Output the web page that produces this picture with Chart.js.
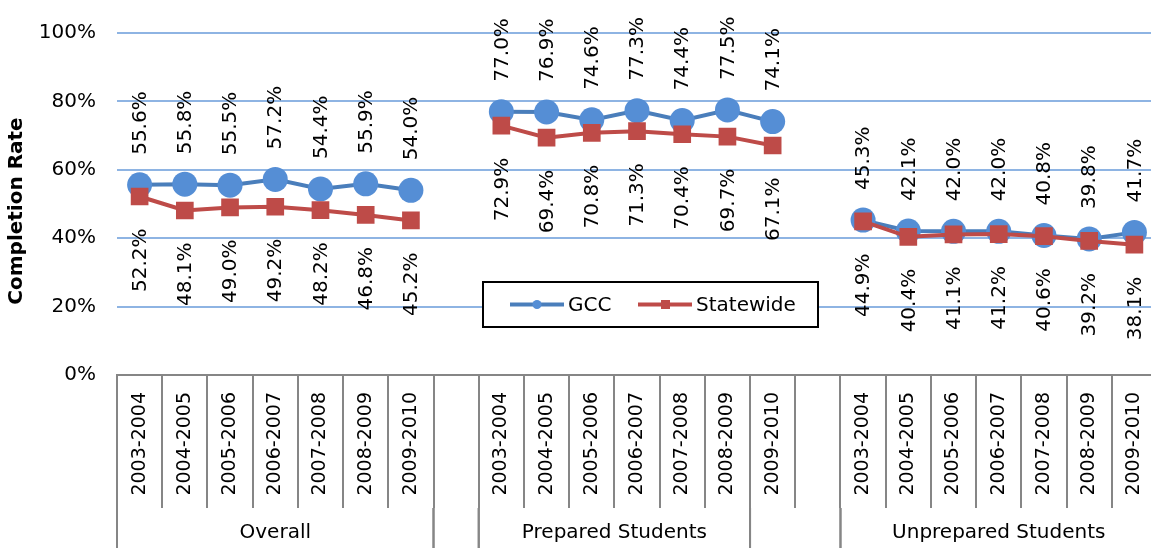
<!DOCTYPE html>
<html>
<head>
<meta charset="utf-8">
<script src="https://cdn.jsdelivr.net/npm/chart.js@4.4.0/dist/chart.umd.min.js"></script>
<style>
  html, body { margin: 0; padding: 0; background: #fff; overflow: hidden; }
  #completion { display: block; }
</style>
</head>
<body>
<canvas id="completion" width="1157" height="548"></canvas>
<script>
// Categories
var years = ["2003-2004", "2004-2005", "2005-2006", "2006-2007", "2007-2008", "2008-2009", "2009-2010"];
var groupLabels = ["Overall", "", "Prepared Students", "", "Unprepared Students"];
var groupSpans = [7, 1, 6, 2, 7];

// Completion rates (%)
var gccOverall = [55.6, 55.8, 55.5, 57.2, 54.4, 55.9, 54.0];
var gccPrepared = [77.0, 76.9, 74.6, 77.3, 74.4, 77.5, 74.1];
var gccUnprepared = [45.3, 42.1, 42.0, 42.0, 40.8, 39.8, 41.7];
var stateOverall = [52.2, 48.1, 49.0, 49.2, 48.2, 46.8, 45.2];
var statePrepared = [72.9, 69.4, 70.8, 71.3, 70.4, 69.7, 67.1];
var stateUnprepared = [44.9, 40.4, 41.1, 41.2, 40.6, 39.2, 38.1];

var yTicks = [0, 20, 40, 60, 80, 100];

// one empty category between the groups
var labels = years.concat([""], years, [""], years);
var gccData = gccOverall.concat([null], gccPrepared, [null], gccUnprepared);
var stateData = stateOverall.concat([null], statePrepared, [null], stateUnprepared);

var FONT = "DejaVu Sans";
var AXIS_GRAY = "#868686";

// Data labels: GCC above, Statewide below, rotated
var dataLabels = {
  id: "dataLabels",
  afterDatasetsDraw: function (chart) {
    var ctx = chart.ctx;
    ctx.save();
    ctx.font = "20px '" + FONT + "'";
    ctx.fillStyle = "#000";
    ctx.textBaseline = "middle";
    chart.data.datasets.forEach(function (ds, i) {
      var meta = chart.getDatasetMeta(i);
      meta.data.forEach(function (pt, j) {
        var v = ds.data[j];
        if (v === null) return;
        var txt = v.toFixed(1) + "%";
        ctx.save();
        if (ds.labelPos === "above") {
          ctx.translate(pt.x + 1, pt.y - 30);
          ctx.rotate(-Math.PI / 2);
          ctx.textAlign = "left";
        } else {
          ctx.translate(pt.x + 1, pt.y + 32);
          ctx.rotate(-Math.PI / 2);
          ctx.textAlign = "right";
        }
        ctx.fillText(txt, 0, 0);
        ctx.restore();
      });
    });
    ctx.restore();
  }
};

// Second level of the category axis + y title
var groupAxis = {
  id: "groupAxis",
  afterDraw: function (chart) {
    var ctx = chart.ctx;
    var x = chart.scales.x;
    var w = x.getPixelForValue(1) - x.getPixelForValue(0);
    var top = x.top + 133;
    var bottom = chart.height;
    ctx.save();
    ctx.strokeStyle = AXIS_GRAY;
    ctx.lineWidth = 2;
    ctx.fillStyle = "#000";
    ctx.font = "20px '" + FONT + "'";
    ctx.textAlign = "center";
    ctx.textBaseline = "middle";
    var idx = 0;
    for (var g = 0; g < groupSpans.length; g++) {
      var left = x.getPixelForValue(idx) - w / 2;
      var right = left + groupSpans[g] * w;
      ctx.beginPath();
      ctx.moveTo(left, top);
      ctx.lineTo(left, bottom);
      ctx.moveTo(right, top);
      ctx.lineTo(right, bottom);
      ctx.stroke();
      if (groupLabels[g]) ctx.fillText(groupLabels[g], (left + right) / 2, 533);
      idx += groupSpans[g];
    }
    // axis title
    ctx.font = "bold 20px '" + FONT + "'";
    ctx.translate(17, 211);
    ctx.rotate(-Math.PI / 2);
    ctx.fillText("Completion Rate", 0, 0);
    ctx.restore();
  }
};

// Boxed legend inside the plot
var boxLegend = {
  id: "boxLegend",
  afterDraw: function (chart) {
    var ctx = chart.ctx;
    var bx = 483, by = 282, bw = 335, bh = 45;
    ctx.save();
    ctx.fillStyle = "#fff";
    ctx.fillRect(bx, by, bw, bh);
    ctx.strokeStyle = "#000";
    ctx.lineWidth = 2;
    ctx.strokeRect(bx, by, bw, bh);
    var cy = by + bh / 2;
    var items = [chart.data.datasets[1], chart.data.datasets[0]];
    var starts = [510, 638];
    ctx.font = "20px '" + FONT + "'";
    ctx.textBaseline = "middle";
    ctx.textAlign = "left";
    items.forEach(function (ds, i) {
      var sx = starts[i];
      ctx.strokeStyle = ds.borderColor;
      ctx.lineWidth = 4;
      ctx.beginPath();
      ctx.moveTo(sx, cy);
      ctx.lineTo(sx + 54, cy);
      ctx.stroke();
      ctx.fillStyle = ds.pointBackgroundColor;
      if (ds.pointStyle === "circle") {
        ctx.beginPath();
        ctx.arc(sx + 27, cy, 4.5, 0, Math.PI * 2);
        ctx.fill();
      } else {
        ctx.fillRect(sx + 23, cy - 4.5, 9, 9);
      }
      ctx.fillStyle = "#000";
      ctx.fillText(ds.label, sx + 58, cy + 1);
    });
    ctx.restore();
  }
};

new Chart("completion", {
  type: "line",
  data: {
    labels: labels,
    datasets: [
      {
        label: "Statewide",
        data: stateData,
        borderColor: "#BE4B48",
        backgroundColor: "#BE4B48",
        pointBackgroundColor: "#BE4B48",
        pointBorderColor: "#BE4B48",
        pointStyle: "rect",
        pointRadius: 12.5,
        borderWidth: 4,
        pointBorderWidth: 0,
        labelPos: "below",
        order: 0
      },
      {
        label: "GCC",
        data: gccData,
        borderColor: "#4A7EBB",
        backgroundColor: "#558ED5",
        pointBackgroundColor: "#558ED5",
        pointBorderColor: "#558ED5",
        pointStyle: "circle",
        pointRadius: 12.5,
        borderWidth: 4,
        pointBorderWidth: 0,
        labelPos: "above",
        order: 1
      }
    ]
  },
  options: {
    responsive: false,
    animation: false,
    spanGaps: false,
    layout: { autoPadding: false, padding: { top: 30, left: 0, right: 0, bottom: 0 } },
    plugins: {
      legend: { display: false },
      tooltip: { enabled: false }
    },
    scales: {
      x: {
        type: "category",
        offset: true,
        grid: {
          offset: true,
          drawOnChartArea: false,
          drawTicks: true,
          tickLength: 133,
          color: AXIS_GRAY,
          lineWidth: 2
        },
        border: { color: AXIS_GRAY, width: 2 },
        ticks: {
          autoSkip: false,
          minRotation: 90,
          maxRotation: 90,
          padding: -116,
          color: "#000",
          font: { family: FONT, size: 19 }
        },
        afterFit: function (scale) {
          scale.height = 173;
          scale.paddingLeft = 0;
          scale.paddingRight = 0;
        }
      },
      y: {
        min: 0,
        max: 100,
        afterBuildTicks: function (scale) {
          scale.ticks = yTicks.map(function (v) { return { value: v }; });
        },
        grid: {
          drawTicks: false,
          lineWidth: 2,
          color: function (c) { return c.tick && c.tick.value === 0 ? "rgba(0,0,0,0)" : "#8EB4E3"; }
        },
        border: { display: false },
        ticks: {
          padding: 21,
          color: "#000",
          font: { family: FONT, size: 20 },
          callback: function (v) { return v + "%"; }
        },
        afterFit: function (scale) { scale.width = 117; }
      }
    }
  },
  plugins: [dataLabels, groupAxis, boxLegend]
});
</script>
</body>
</html>
